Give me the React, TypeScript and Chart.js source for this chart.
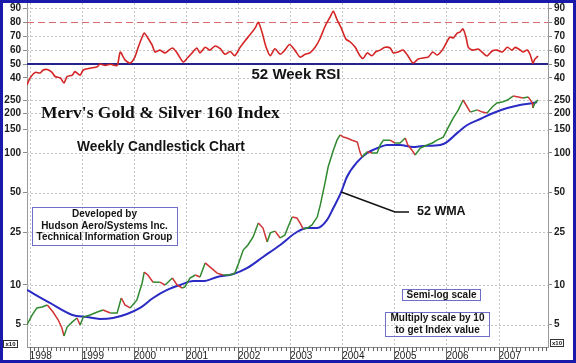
import React, { useEffect, useRef } from 'react';
import { Chart, registerables } from 'chart.js';

Chart.register(...registerables);

const SANS = '"Liberation Sans", Arial, Helvetica, sans-serif';
const SERIF = '"Liberation Serif", "Times New Roman", serif';

const yearTicks = [1998, 1999, 2000, 2001, 2002, 2003, 2004, 2005, 2006, 2007];
const rsiTicks = [40, 50, 60, 70, 80, 90];
const priceTicks = [5, 10, 25, 50, 100, 150, 200, 250];

const X_MIN = 1997.95;
const X_MAX = 2007.95;
const RSI_MIN = 31.3;
const RSI_MAX = 93.9;
const PRICE_MIN = 3.39;
const PRICE_MAX = 300;

const priceDates = [
  1997.95, 1998.05, 1998.14, 1998.24, 1998.34, 1998.45, 1998.55, 1998.62, 1998.66, 1998.72,
  1998.82, 1998.91, 1998.97, 1999.03, 1999.16, 1999.3, 1999.41, 1999.55, 1999.68, 1999.76,
  1999.83, 1999.93, 2000.06, 2000.16, 2000.2, 2000.27, 2000.37, 2000.5, 2000.6, 2000.74,
  2000.83, 2000.93, 2000.98, 2001.08, 2001.18, 2001.27, 2001.37, 2001.46, 2001.6, 2001.71,
  2001.85, 2001.94, 2002.0, 2002.1, 2002.19, 2002.29, 2002.39, 2002.48, 2002.56, 2002.62,
  2002.71, 2002.81, 2002.9, 2002.96, 2003.04, 2003.13, 2003.19, 2003.25, 2003.33, 2003.42,
  2003.52, 2003.58, 2003.67, 2003.73, 2003.83, 2003.9, 2003.96, 2004.02, 2004.09, 2004.19,
  2004.29, 2004.34, 2004.38, 2004.48, 2004.57, 2004.67, 2004.73, 2004.79, 2004.92, 2005.01,
  2005.11, 2005.21, 2005.26, 2005.34, 2005.4, 2005.5, 2005.63, 2005.73, 2005.82, 2005.94,
  2006.03, 2006.13, 2006.23, 2006.32, 2006.4, 2006.46, 2006.59, 2006.69, 2006.78, 2006.88,
  2006.97, 2007.07, 2007.17, 2007.28, 2007.38, 2007.47, 2007.57, 2007.65, 2007.66, 2007.7,
  2007.76,
];
const priceValues = [
  5.0, 5.93, 6.7, 6.81, 7.06, 6.24, 5.43, 4.72, 4.11, 4.8,
  5.25, 5.62, 4.98, 5.72, 5.93, 6.24, 6.47, 6.14, 6.14, 7.97,
  7.06, 6.7, 7.7, 10.35, 12.5, 11.9, 10.5, 10.5, 10.0, 11.3,
  10.0, 9.49, 9.66, 11.3, 11.9, 11.5, 14.7, 13.7, 12.3, 11.9,
  11.9, 12.3, 14.2, 18.4, 20.1, 23.1, 29.5, 27.0, 21.2, 24.8,
  25.6, 22.7, 23.9, 27.5, 32.7, 32.2, 29.5, 26.6, 27.0, 28.5,
  32.7, 40.4, 59.3, 78.3, 105, 125, 137, 132, 130, 125,
  121, 102, 93.3, 102, 100, 100, 115, 125, 125, 119,
  119, 130, 115, 105, 96.6, 109, 115, 119, 125, 132,
  155, 184, 212, 252, 223, 204, 212, 204, 201, 223,
  239, 243, 252, 270, 266, 261, 266, 239, 219, 239,
  252,
];

const wmaDates = [
  1997.95, 1998.39, 1998.82, 1999.1, 1999.35, 1999.6, 1999.87, 2000.12, 2000.37, 2000.64,
  2000.89, 2001.14, 2001.33, 2001.6, 2001.91, 2002.17, 2002.48, 2002.81, 2003.13, 2003.33,
  2003.52, 2003.71, 2003.83, 2003.98, 2004.09, 2004.29, 2004.48, 2004.73, 2004.86, 2005.11,
  2005.36, 2005.55, 2005.88, 2006.01, 2006.21, 2006.4, 2006.65, 2006.9, 2007.17, 2007.41,
  2007.66, 2007.74,
];
const wmaValues = [
  9.17, 7.31, 5.93, 5.72, 5.53, 5.62, 6.03, 6.7, 7.97, 9.17,
  10.0, 10.7, 10.7, 11.5, 12.1, 13.4, 16.3, 20.1, 25.2, 27.0,
  27.0, 31.1, 38.3, 50.6, 65.8, 85.5, 100, 111, 115, 115,
  111, 113, 115, 121, 142, 163, 181, 201, 219, 231,
  239, 243,
];

const rsiDates = [
  1997.95, 1998.01, 1998.11, 1998.2, 1998.26, 1998.34, 1998.43, 1998.49, 1998.59, 1998.66,
  1998.72, 1998.82, 1998.87, 1998.97, 1999.03, 1999.16, 1999.3, 1999.35, 1999.45, 1999.55,
  1999.68, 1999.74, 1999.83, 1999.93, 2000.02, 2000.08, 2000.16, 2000.2, 2000.27, 2000.35,
  2000.41, 2000.5, 2000.6, 2000.74, 2000.83, 2000.95, 2001.02, 2001.12, 2001.21, 2001.27,
  2001.37, 2001.46, 2001.56, 2001.66, 2001.75, 2001.85, 2001.94, 2002.04, 2002.14, 2002.23,
  2002.33, 2002.39, 2002.46, 2002.54, 2002.62, 2002.71, 2002.81, 2002.9, 2002.99, 2003.09,
  2003.19, 2003.29, 2003.38, 2003.48, 2003.57, 2003.67, 2003.77, 2003.83, 2003.9, 2003.98,
  2004.07, 2004.15, 2004.25, 2004.34, 2004.4, 2004.48, 2004.57, 2004.65, 2004.73, 2004.82,
  2004.92, 2004.98, 2005.07, 2005.17, 2005.25, 2005.36, 2005.46, 2005.55, 2005.65, 2005.74,
  2005.82, 2005.92, 2006.01, 2006.07, 2006.13, 2006.21, 2006.26, 2006.32, 2006.38, 2006.42,
  2006.51, 2006.61, 2006.7, 2006.78, 2006.88, 2006.97, 2007.07, 2007.17, 2007.26, 2007.32,
  2007.42, 2007.47, 2007.55, 2007.61, 2007.66, 2007.7, 2007.76,
];
const rsiValues = [
  35, 40, 44, 43.5, 45.7, 46, 44, 41, 40, 36.3,
  41, 42, 44.5, 42, 45.7, 47, 48, 50, 49, 49.8,
  49, 58.6, 53, 50.7, 55, 61.5, 69.4, 72.3, 68.7, 63.7,
  58.6, 60, 58, 61.5, 58, 51.4, 54, 58, 61.5, 58,
  62, 60, 63, 61, 57, 59, 56, 62, 67, 71,
  76, 80, 73, 62, 56, 61, 57, 60, 64, 60,
  55, 57, 58, 62, 68, 77, 84, 88, 82, 76,
  68, 66, 62, 56, 54, 58, 56, 59, 60, 62,
  61.5, 58, 58.6, 60, 56.5, 50.7, 53.6, 54.3, 55, 58.6,
  56.5, 60, 66, 69.4, 68.7, 72.3, 73, 75.2, 68.7, 62,
  60, 60.8, 58, 55.8, 59.4, 60, 58.6, 62, 60, 62,
  60, 58.6, 60, 56.5, 50.7, 53.6, 55.8,
];

const UP = '#2f8a2f';
const DOWN = '#d03434';

function seg(ctx: CanvasRenderingContext2D, x1: number, y1: number, x2: number, y2: number) {
  ctx.beginPath();
  ctx.moveTo(x1, y1);
  ctx.lineTo(x2, y2);
  ctx.stroke();
}

function text(ctx: CanvasRenderingContext2D, s: string, x: number, y: number, font: string, align: CanvasTextAlign = 'center', color = '#141414') {
  ctx.font = font;
  ctx.textAlign = align;
  ctx.textBaseline = 'middle';
  ctx.fillStyle = color;
  ctx.fillText(s, x, y);
}

function box(ctx: CanvasRenderingContext2D, x: number, y: number, w: number, h: number, color = '#6e6ec8') {
  ctx.strokeStyle = color;
  ctx.lineWidth = 1;
  ctx.setLineDash([]);
  ctx.strokeRect(x + 0.5, y + 0.5, w, h);
}

const decoPlugin = {
  id: 'deco',
  beforeDraw(chart: any) {
    const { ctx, width, height } = chart;
    ctx.save();
    ctx.fillStyle = '#ffffff';
    ctx.fillRect(0, 0, width, height);
    ctx.restore();
  },
  beforeDatasetsDraw(chart: any) {
    const { ctx, chartArea: a, scales } = chart;
    const xs = scales.x, rs = scales.yRsi, ps = scales.yPrice;
    ctx.save();
    ctx.lineWidth = 1;
    ctx.strokeStyle = '#c6c6c6';
    ctx.setLineDash([2, 2]);
    for (const yr of yearTicks) {
      const px = Math.round(xs.getPixelForValue(yr)) + 0.5;
      seg(ctx, px, a.top, px, a.bottom);
    }
    for (const v of rsiTicks) {
      if (v === 50 || v === 80) continue;
      const py = Math.round(rs.getPixelForValue(v)) + 0.5;
      seg(ctx, a.left, py, a.right, py);
    }
    for (const v of priceTicks) {
      const py = Math.round(ps.getPixelForValue(v)) + 0.5;
      seg(ctx, a.left, py, a.right, py);
    }
    ctx.strokeStyle = '#d66a6a';
    ctx.setLineDash([7, 4]);
    const p80 = Math.round(rs.getPixelForValue(80)) + 0.5;
    seg(ctx, a.left, p80, a.right, p80);
    ctx.setLineDash([]);
    ctx.strokeStyle = '#24248a';
    ctx.lineWidth = 2;
    const p50 = Math.round(rs.getPixelForValue(50));
    seg(ctx, a.left, p50, a.right, p50);
    ctx.restore();
  },
  afterDraw(chart: any) {
    const { ctx, chartArea: a, scales, width, height } = chart;
    const xs = scales.x, ps = scales.yPrice;
    ctx.save();

    // x axis line and ticks
    ctx.setLineDash([]);
    ctx.strokeStyle = '#8c8c8c';
    ctx.lineWidth = 1;
    seg(ctx, a.left, a.bottom + 0.5, a.right, a.bottom + 0.5);
    ctx.strokeStyle = '#666';
    for (let yr = 1997; yr <= 2007; yr++) {
      for (let m = 0; m < 12; m++) {
        const v = yr + m / 12;
        if (v < X_MIN || v > X_MAX) continue;
        const px = Math.round(xs.getPixelForValue(v)) + 0.5;
        if (m === 0) seg(ctx, px, a.bottom, px, a.bottom + 13);
        else seg(ctx, px, a.bottom, px, a.bottom + 4);
      }
    }

    // RSI label
    text(ctx, '52 Week RSI', 296, 75, `bold 15px ${SANS}`);

    // titles
    text(ctx, "Merv's Gold & Silver 160 Index", 41, 113, `bold 17.5px ${SERIF}`, 'left', '#111');
    text(ctx, 'Weekly Candlestick Chart', 161, 147, `bold 13.75px ${SANS}`);

    // developed box
    box(ctx, 32, 207, 145, 38);
    const f10 = `bold 10px ${SANS}`;
    text(ctx, 'Developed by', 104.5, 214, f10);
    text(ctx, 'Hudson Aero/Systems Inc.', 104.5, 226, f10);
    text(ctx, 'Technical Information Group', 104.5, 237.5, f10);

    // 52 WMA label with pointer
    const tipX = xs.getPixelForValue(2003.98);
    const tipY = ps.getPixelForValue(50.6);
    ctx.strokeStyle = '#111';
    ctx.lineWidth = 1.5;
    ctx.beginPath();
    ctx.moveTo(tipX, tipY);
    ctx.lineTo(395, 212);
    ctx.lineTo(409, 212);
    ctx.stroke();
    text(ctx, '52 WMA', 417, 212, `bold 12.5px ${SANS}`, 'left');

    // semi-log box
    box(ctx, 402, 289, 78, 11);
    text(ctx, 'Semi-log scale', 441.5, 295, f10);

    // multiply box
    box(ctx, 385, 312, 104, 24);
    text(ctx, 'Multiply scale by 10', 437.5, 318, f10);
    text(ctx, 'to get Index value', 437.5, 330, f10);

    // x10 boxes
    box(ctx, 3, 340, 14, 7, '#333');
    text(ctx, 'x10', 10.5, 344, `bold 6px ${SANS}`);
    box(ctx, 550, 339, 13, 7, '#333');
    text(ctx, 'x10', 557, 343, `bold 6px ${SANS}`);

    // frame
    ctx.strokeStyle = '#1a1aaa';
    ctx.lineWidth = 3;
    ctx.strokeRect(1.5, 1.5, width - 3, height - 3);
    ctx.restore();
  },
};

function makeY(kind: 'rsi' | 'price', side: 'left' | 'right') {
  const isR = kind === 'rsi';
  return {
    type: isR ? 'linear' : 'logarithmic',
    position: side,
    stack: side,
    stackWeight: isR ? 87 : 257,
    min: isR ? RSI_MIN : PRICE_MIN,
    max: isR ? RSI_MAX : PRICE_MAX,
    bounds: 'data',
    afterBuildTicks: (s: any) => {
      s.ticks = (isR ? rsiTicks : priceTicks).map((v) => ({ value: v }));
    },
    afterFit: (s: any) => {
      s.width = side === 'left' ? 27 : 28;
      s.paddingTop = 0;
      s.paddingBottom = 0;
    },
    ticks: {
      font: { family: SANS, size: 10, weight: 'bold' },
      color: '#1a1a1a',
      padding: 2,
      autoSkip: false,
      callback: (v: any) => String(v),
    },
    grid: { drawOnChartArea: false, drawTicks: true, tickLength: 4, tickColor: '#8a8a8a' },
    border: { display: true, color: '#9a9a9a', width: 1 },
  };
}

export default function App() {
  const ref = useRef<HTMLCanvasElement>(null);
  useEffect(() => {
    const canvas = ref.current!;
    const chart = new Chart(canvas, {
      type: 'line',
      data: {
        datasets: [
          {
            label: 'RSI',
            data: rsiDates.map((d, i) => ({ x: d, y: rsiValues[i] })),
            yAxisID: 'yRsi',
            borderColor: '#d42424',
            borderWidth: 1.6,
            pointRadius: 0,
            tension: 0.25,
          },
          {
            label: 'Price',
            data: priceDates.map((d, i) => ({ x: d, y: priceValues[i] })),
            yAxisID: 'yPrice',
            borderColor: UP,
            borderWidth: 1.5,
            pointRadius: 0,
            tension: 0,
            segment: {
              borderColor: (c: any) => (c.p1.parsed.y >= c.p0.parsed.y ? UP : DOWN),
            },
          },
          {
            label: '52 WMA',
            data: wmaDates.map((d, i) => ({ x: d, y: wmaValues[i] })),
            yAxisID: 'yPrice',
            borderColor: '#2a2ac4',
            borderWidth: 2,
            pointRadius: 0,
            cubicInterpolationMode: 'monotone',
          },
        ],
      },
      options: {
        responsive: false,
        animation: false,
        devicePixelRatio: 1,
        layout: { padding: { top: 3, left: 0, right: 0, bottom: 0 }, autoPadding: false },
        plugins: { legend: { display: false }, tooltip: { enabled: false }, title: { display: false } },
        scales: {
          x: {
            type: 'linear',
            position: 'bottom',
            min: X_MIN,
            max: X_MAX,
            bounds: 'data',
            afterBuildTicks: (s: any) => {
              s.ticks = yearTicks.map((v) => ({ value: v }));
            },
            afterFit: (s: any) => {
              s.height = 16;
              s.paddingLeft = 0;
              s.paddingRight = 0;
            },
            ticks: {
              align: 'start',
              padding: 3,
              font: { family: SANS, size: 10 },
              color: '#1a1a1a',
              autoSkip: false,
              maxRotation: 0,
              callback: (v: any) => String(v),
            },
            grid: { display: false, drawTicks: false, tickLength: 0 },
            border: { display: false },
          },
          yPrice: makeY('price', 'left'),
          yRsi: makeY('rsi', 'left'),
          yRsiR: makeY('rsi', 'right'),
          yPriceR: makeY('price', 'right'),
        } as any,
      },
      plugins: [decoPlugin],
    } as any);
    return () => chart.destroy();
  }, []);
  return (
    <div style={{ position: 'absolute', left: 0, top: 0, width: 576, height: 363 }}>
      <canvas ref={ref} width={576} height={363} style={{ display: 'block', width: 576, height: 363 }} />
    </div>
  );
}
